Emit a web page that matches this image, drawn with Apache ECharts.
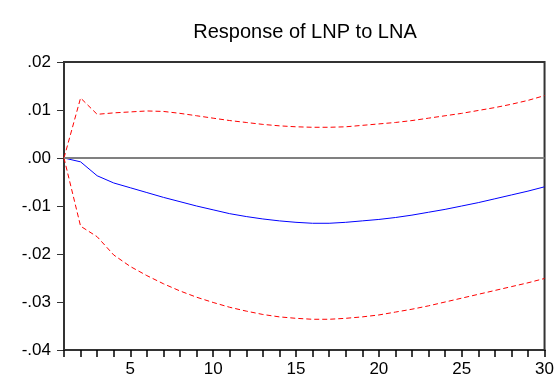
<!DOCTYPE html>
<html>
<head>
<meta charset="utf-8">
<script src="https://cdn.jsdelivr.net/npm/echarts@6/dist/echarts.min.js"></script>
<style>html,body{margin:0;padding:0;background:#fff}#c{width:557px;height:392px}</style>
</head>
<body>
<div id="c"></div>
<script>
var periods = [1,2,3,4,5,6,7,8,9,10,11,12,13,14,15,16,17,18,19,20,21,22,23,24,25,26,27,28,29,30];
var response = [0,-0.0008,-0.0037,-0.0052,-0.0062,-0.0072,-0.0082,-0.0091,-0.0100,-0.0108,-0.0116,-0.0122,-0.0127,-0.0131,-0.0134,-0.0136,-0.0136,-0.0134,-0.0131,-0.0128,-0.0124,-0.0119,-0.0113,-0.0107,-0.0100,-0.0093,-0.0085,-0.0077,-0.0069,-0.0060];
var upperBand = [0,0.0125,0.0091,0.0094,0.0096,0.0098,0.0097,0.0093,0.0088,0.0083,0.0078,0.0074,0.0070,0.0067,0.0065,0.0064,0.0064,0.0065,0.0068,0.0071,0.0074,0.0078,0.0083,0.0088,0.0093,0.0099,0.0105,0.0112,0.0120,0.0130];
var lowerBand = [0,-0.0142,-0.0164,-0.0202,-0.0226,-0.0245,-0.0262,-0.0277,-0.0290,-0.0301,-0.0311,-0.0319,-0.0326,-0.0331,-0.0334,-0.0336,-0.0336,-0.0334,-0.0331,-0.0327,-0.0321,-0.0315,-0.0308,-0.0300,-0.0292,-0.0284,-0.0276,-0.0268,-0.0260,-0.0251];
var xLabelValues = [5,10,15,20,25,30];
var yTickLabels = {'0.02':'.02','0.01':'.01','0':'.00','-0.01':'-.01','-0.02':'-.02','-0.03':'-.03','-0.04':'-.04'};

function pairs(ys){ return periods.map(function(p,i){ return [p, ys[i]]; }); }

var chart = echarts.init(document.getElementById('c'));
var font = 'Liberation Sans, Arial, sans-serif';
var axisColor = '#333333';
chart.setOption({
  animation: false,
  title: {
    text: 'Response of LNP to LNA',
    left: 300, top: 17, textAlign: 'center',
    textStyle: {fontFamily: font, fontSize: 20, fontWeight: 'normal', color: '#000'}
  },
  grid: {left: 64, right: 12, top: 62, bottom: 42, show: true, borderColor: axisColor, borderWidth: 2, backgroundColor: 'transparent'},
  xAxis: {
    type: 'value', min: 1, max: 30, interval: 1,
    axisLine: {show: true, onZero: false, lineStyle: {color: axisColor, width: 2}},
    axisTick: {show: true, length: 7, lineStyle: {color: '#000000', width: 1.5}},
    axisLabel: {show: true, margin: 11, fontFamily: font, fontSize: 17, color: '#000',
      formatter: function(v){ return xLabelValues.indexOf(v) >= 0 ? String(v) : ''; }},
    splitLine: {show: false}
  },
  yAxis: {
    type: 'value', min: -0.04, max: 0.02, interval: 0.01,
    axisLine: {show: true, lineStyle: {color: axisColor, width: 2}},
    axisTick: {show: true, length: 7, lineStyle: {color: axisColor, width: 1}},
    axisLabel: {margin: 13, fontFamily: font, fontSize: 17, color: '#000',
      formatter: function(v){ var k = String(Math.round(v*100)/100); return yTickLabels[k] !== undefined ? yTickLabels[k] : k; }},
    splitLine: {show: false}
  },
  series: [{
    type: 'line', data: pairs(upperBand), showSymbol: false, symbol: 'none',
    lineStyle: {color: '#ff0000', width: 1, type: [5,3]}
  },{
    type: 'line', data: pairs(lowerBand), showSymbol: false, symbol: 'none',
    lineStyle: {color: '#ff0000', width: 1, type: [5,3]}
  },{
    type: 'line', data: pairs(response), showSymbol: false, symbol: 'none',
    lineStyle: {color: '#0000ff', width: 1},
    markLine: {silent: true, symbol: 'none', label: {show: false},
      lineStyle: {color: '#808080', width: 2, type: 'solid'},
      data: [{yAxis: 0}]}
  }]
});
</script>
</body>
</html>
